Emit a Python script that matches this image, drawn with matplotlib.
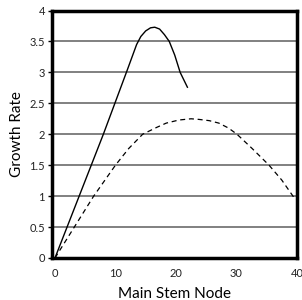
import matplotlib
matplotlib.use("Agg")
import matplotlib.pyplot as plt

# solid curve
node_a = [0, 4, 8, 12, 13.5, 14.2, 15.0, 15.8, 16.5, 17.3, 18.1, 18.9, 19.8, 20.7, 21.9]
rate_a = [0, 1, 2, 3.05, 3.45, 3.58, 3.67, 3.72, 3.73, 3.7, 3.61, 3.5, 3.28, 3.0, 2.76]

# dashed curve
node_b = [0, 3.2, 6.4, 8.2, 10.0, 12.2, 14.5, 16.8, 18.4, 20.5, 22.5, 23.8, 25.5,
          27.1, 28.7, 30.1, 32.6, 35.4, 37.5, 39.5, 40]
rate_b = [0, 0.5, 1.0, 1.25, 1.5, 1.77, 2.0, 2.11, 2.18, 2.23, 2.25, 2.24, 2.22,
          2.18, 2.1, 2.0, 1.77, 1.5, 1.26, 0.98, 0.94]

xticks = [0, 10, 20, 30, 40]
yticks = [0, 0.5, 1, 1.5, 2, 2.5, 3, 3.5, 4]
ylabels = ["0", "0.5", "1", "1.5", "2", "2.5", "3", "3.5", "4"]

plt.rcParams['font.family'] = ['Lato', 'DejaVu Sans']

fig = plt.figure(figsize=(3.02, 3.0), dpi=100)
ax = fig.add_axes([0.172, 0.14, 0.811, 0.825])

for y in yticks[1:-1]:
    ax.axhline(y, color="#808080", lw=1.4, zorder=1)

ax.plot(node_a, rate_a, color="black", lw=1.0, zorder=3)
ax.plot(node_b, rate_b, color="black", lw=0.9, ls=(0, (4, 3)), zorder=3)

ax.set_xlim(-0.5, 40)
ax.set_ylim(0, 4)
ax.set_xticks(xticks)
ax.set_yticks(yticks)
ax.set_yticklabels(ylabels)
ax.tick_params(axis="x", length=0, labelsize=8, pad=7, colors="#222222")
ax.tick_params(axis="y", length=3, width=1, labelsize=8, pad=2, direction="out",
               labelcolor="#222222")

for s in ax.spines.values():
    s.set_linewidth(2.5)
    s.set_color("black")

ax.set_xlabel("Main Stem Node", fontsize=11, labelpad=6)
ax.set_ylabel("Growth Rate", fontsize=11, labelpad=4)

fig.savefig("out.png", dpi=100)
